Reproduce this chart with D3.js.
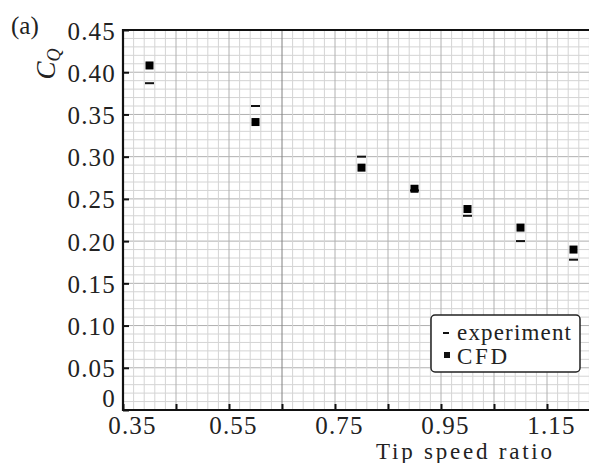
<!DOCTYPE html>
<html>
<head>
<meta charset="utf-8">
<script src="https://cdn.jsdelivr.net/npm/d3@7"></script>
<style>
  body { margin: 0; background: #fff; }
  svg { display: block; font-family: "Liberation Serif", "DejaVu Serif", serif; }
</style>
</head>
<body>
<svg id="chart" width="589" height="463"></svg>
<script>
'use strict';

// tip speed ratio values
var tsr = [0.40, 0.60, 0.80, 0.90, 1.00, 1.10, 1.20];
var experiment = [0.387, 0.360, 0.300, 0.260, 0.230, 0.200, 0.178];
var cfd = [0.408, 0.341, 0.287, 0.262, 0.238, 0.216, 0.190];
var xTickLabels = [0.35, 0.55, 0.75, 0.95, 1.15];
var yTickLabels = [0, 0.05, 0.10, 0.15, 0.20, 0.25, 0.30, 0.35, 0.40, 0.45];

(function() {
    var svg = d3.select('#chart');
    var pLeft = 123, pTop = 30, pBottom = 410;

    var x = d3.scaleLinear().domain([0.35, 1.15]).range([pLeft, pLeft + 424]);
    var y = d3.scaleLinear().domain([0, 0.45]).range([pBottom, pTop]);
    var xMax = x.invert(600);

    /* grid */
    var grid = svg.append('g');
    d3.range(0, 46).forEach(function(i) {
        var v = i / 100;
        grid.append('line')
            .attr('x1', pLeft).attr('x2', 600)
            .attr('y1', y(v)).attr('y2', y(v))
            .attr('stroke', i % 5 === 0 ? '#b0b0b0' : '#d4d4d4')
            .attr('stroke-width', 1);
    });
    d3.range(0, Math.floor((xMax - 0.35) / 0.02) + 1).forEach(function(i) {
        var v = 0.35 + i * 0.02;
        var major = i % 5 === 0;
        grid.append('line')
            .attr('x1', x(v)).attr('x2', x(v))
            .attr('y1', pTop).attr('y2', pBottom)
            .attr('stroke', Math.abs(v - 0.65) < 1e-6 ? '#808080' : (major ? '#b0b0b0' : '#d4d4d4'))
            .attr('stroke-width', 1);
    });

    /* frame */
    svg.append('line').attr('x1', pLeft).attr('x2', pLeft).attr('y1', pTop - 1).attr('y2', pBottom + 1)
        .attr('stroke', '#111').attr('stroke-width', 2.2);
    svg.append('line').attr('x1', pLeft - 1).attr('x2', 600).attr('y1', pBottom).attr('y2', pBottom)
        .attr('stroke', '#111').attr('stroke-width', 2.2);
    svg.append('line').attr('x1', pLeft - 1).attr('x2', 600).attr('y1', pTop).attr('y2', pTop)
        .attr('stroke', '#111').attr('stroke-width', 2.2);

    /* ticks */
    var yAxis = d3.axisLeft(y).tickValues(yTickLabels).tickSize(-6).tickPadding(7)
        .tickFormat(function(d) { return d === 0 ? '0' : d3.format('.2f')(d); });
    var gy = svg.append('g').attr('transform', 'translate(' + pLeft + ',0)').call(yAxis);
    gy.select('.domain').remove();
    gy.selectAll('.tick line').attr('stroke', '#111').attr('stroke-width', 2);
    gy.selectAll('.tick text').attr('font-size', 25).attr('fill', '#222')
        .attr('letter-spacing', 1.2)
        .attr('font-family', '"Liberation Serif", serif')
        .attr('dy', function(d) { return d === 0 ? '-4px' : '0.36em'; });

    var xAxis = d3.axisBottom(x).tickValues(d3.range(0.35, xMax, 0.1)).tickSize(-6).tickPadding(6)
        .tickFormat(function(d) {
            var hit = xTickLabels.some(function(t) { return Math.abs(t - d) < 1e-6; });
            return hit ? d3.format('.2f')(d) : '';
        });
    var gx = svg.append('g').attr('transform', 'translate(0,' + pBottom + ')').call(xAxis);
    gx.select('.domain').remove();
    gx.selectAll('.tick line').attr('stroke', '#111').attr('stroke-width', 2);
    gx.selectAll('.tick text').attr('font-size', 25).attr('fill', '#222')
        .attr('letter-spacing', 1.2)
        .attr('font-family', '"Liberation Serif", serif')
        .attr('dx', function(d) { return Math.abs(d - 0.35) < 1e-6 ? 9 : 4; });

    /* data */
    svg.append('g').selectAll('rect')
        .data(tsr).enter().append('rect')
        .attr('x', function(d) { return x(d) - 4.5; })
        .attr('y', function(d, i) { return y(experiment[i]) - 1; })
        .attr('width', 9).attr('height', 2)
        .attr('fill', '#111');

    svg.append('g').selectAll('rect')
        .data(tsr).enter().append('rect')
        .attr('x', function(d) { return x(d) - 4; })
        .attr('y', function(d, i) { return y(cfd[i]) - 4; })
        .attr('width', 8).attr('height', 8)
        .attr('fill', '#000');

    /* legend */
    var lg = svg.append('g').attr('transform', 'translate(431,315)');
    lg.append('rect').attr('width', 149).attr('height', 57).attr('rx', 4)
        .attr('fill', '#fff').attr('stroke', '#222').attr('stroke-width', 1.5);
    lg.append('rect').attr('x', 12).attr('y', 17).attr('width', 6).attr('height', 2).attr('fill', '#111');
    lg.append('text').attr('x', 26).attr('y', 25).attr('font-size', 23).attr('fill', '#222')
        .attr('textLength', 114).attr('lengthAdjust', 'spacing').text('experiment');
    lg.append('rect').attr('x', 13).attr('y', 37).attr('width', 6).attr('height', 6).attr('fill', '#111');
    lg.append('text').attr('x', 26).attr('y', 49).attr('font-size', 23).attr('fill', '#222')
        .attr('textLength', 50).attr('lengthAdjust', 'spacing').text('CFD');

    /* labels */
    svg.append('text').attr('x', 11).attr('y', 34).attr('font-size', 25).attr('fill', '#222').text('(a)');
    svg.append('text').attr('transform', 'translate(55,64) rotate(-90)')
        .attr('text-anchor', 'middle').attr('font-size', 27).attr('font-style', 'italic').attr('fill', '#222')
        .text('C')
        .append('tspan').attr('font-size', 18).attr('dy', 5).text('Q');
    svg.append('text').attr('x', 376).attr('y', 459)
        .attr('font-size', 23).attr('fill', '#222')
        .attr('textLength', 176).attr('lengthAdjust', 'spacing').text('Tip speed ratio');
})();
</script>
</body>
</html>
